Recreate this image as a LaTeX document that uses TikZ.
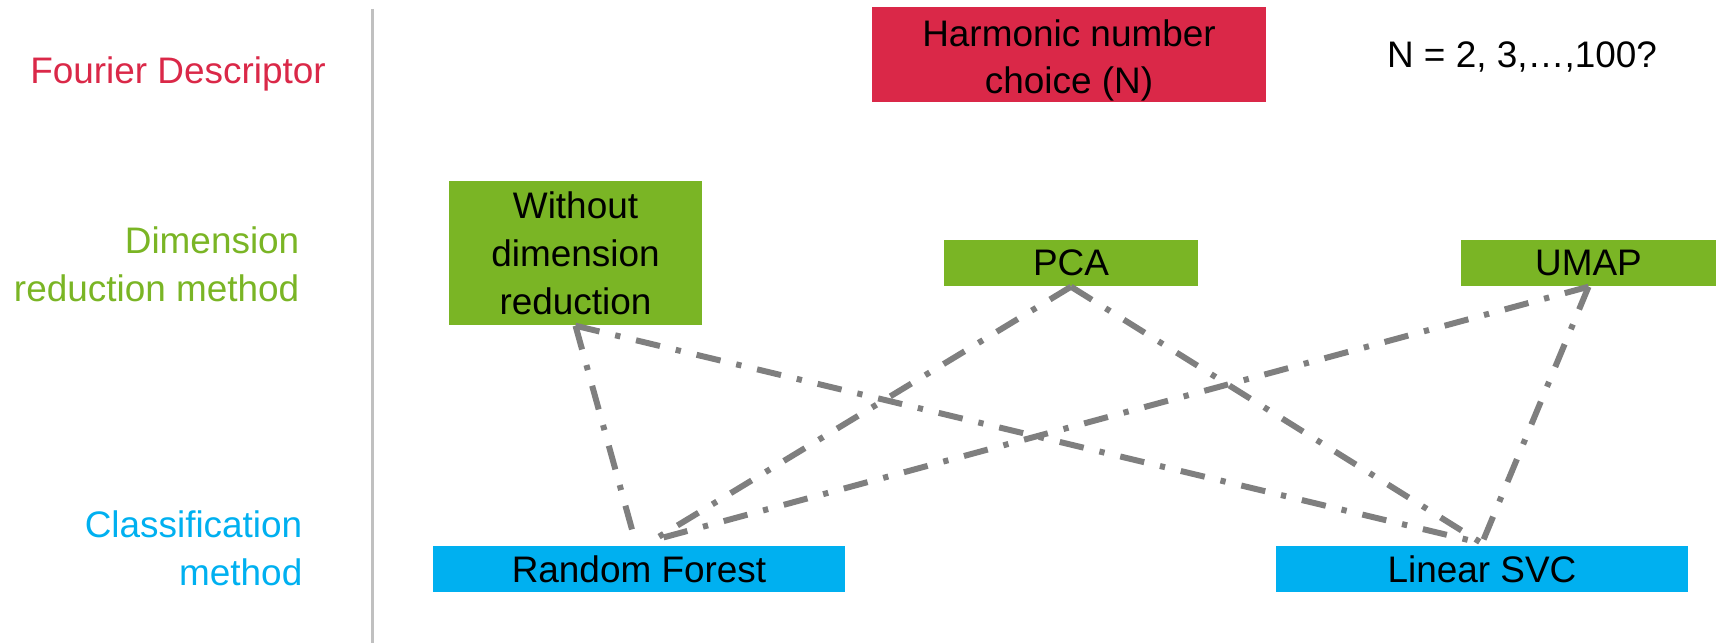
\documentclass[tikz,border=0pt]{standalone}
\usepackage{fontspec}
\setmainfont{Liberation Sans}
\usetikzlibrary{positioning}

\definecolor{fdRed}{RGB}{218,40,72}
\definecolor{drGreen}{RGB}{122,181,37}
\definecolor{clBlue}{RGB}{0,176,240}
\definecolor{linkGray}{RGB}{127,127,127}
\definecolor{sepGray}{RGB}{192,192,192}

\begin{document}
\begin{tikzpicture}[x=0.01cm, y=-0.01cm,
    every node/.style={font=\fontsize{10.5}{13.6}\selectfont, inner sep=0pt},
    stagebox/.style={minimum height=0.46cm, align=center, text=black},
    steplabel/.style={align=right, anchor=east},
    link/.style={draw=linkGray, line width=1.7pt,
        dash pattern=on 7pt off 4.6pt on 1.5pt off 4.6pt}]

    % Canvas
    \useasboundingbox (0,0) rectangle (1716,643);

    % Separator between the stage names and the methods
    \draw[sepGray, line width=0.85pt] (372,9) -- (372,643);

    % Stage names on the left
    \node[text=fdRed] (fdlabel) at (178,74) {Fourier Descriptor};
    \node[steplabel, text=drGreen] (drlabel) at (300,264) {Dimension\\reduction method};
    \node[steplabel, text=clBlue] (cllabel) at (303,548) {Classification\\method};

    % Fourier descriptor stage
    \node[stagebox, fill=fdRed, minimum width=3.94cm, minimum height=0.95cm] (harmonic) at (1069,54.5)
        {\rule{0pt}{11pt}Harmonic number\\choice (N)};
    \node (nrange) at (1522,57) {N = 2, 3,…,100?};

    % Dimension reduction stage
    \node[stagebox, fill=drGreen, minimum width=2.53cm, minimum height=1.44cm] (withoutdr) at (575.5,253)
        {Without\\dimension\\reduction};
    \node[stagebox, fill=drGreen, minimum width=2.54cm] (pca) at (1071,263) {PCA};
    \node[stagebox, fill=drGreen, minimum width=2.55cm] (umap) at (1588.5,263) {UMAP};

    % Classification stage
    \node[stagebox, fill=clBlue, minimum width=4.12cm] (rf) at (639,569) {Random Forest};
    \node[stagebox, fill=clBlue, minimum width=4.12cm] (svc) at (1482,569) {Linear SVC};

    % Links between the two stages
    \foreach \dr/\off in {withoutdr/-4, pca/14, umap/14} {
        \draw[link] (\dr.south) -- ([xshift=\off*0.01cm, yshift=0.05cm]rf.north);
        \draw[link] (\dr.south) -- ([yshift=0.02cm]svc.north);
    }

\end{tikzpicture}
\end{document}
